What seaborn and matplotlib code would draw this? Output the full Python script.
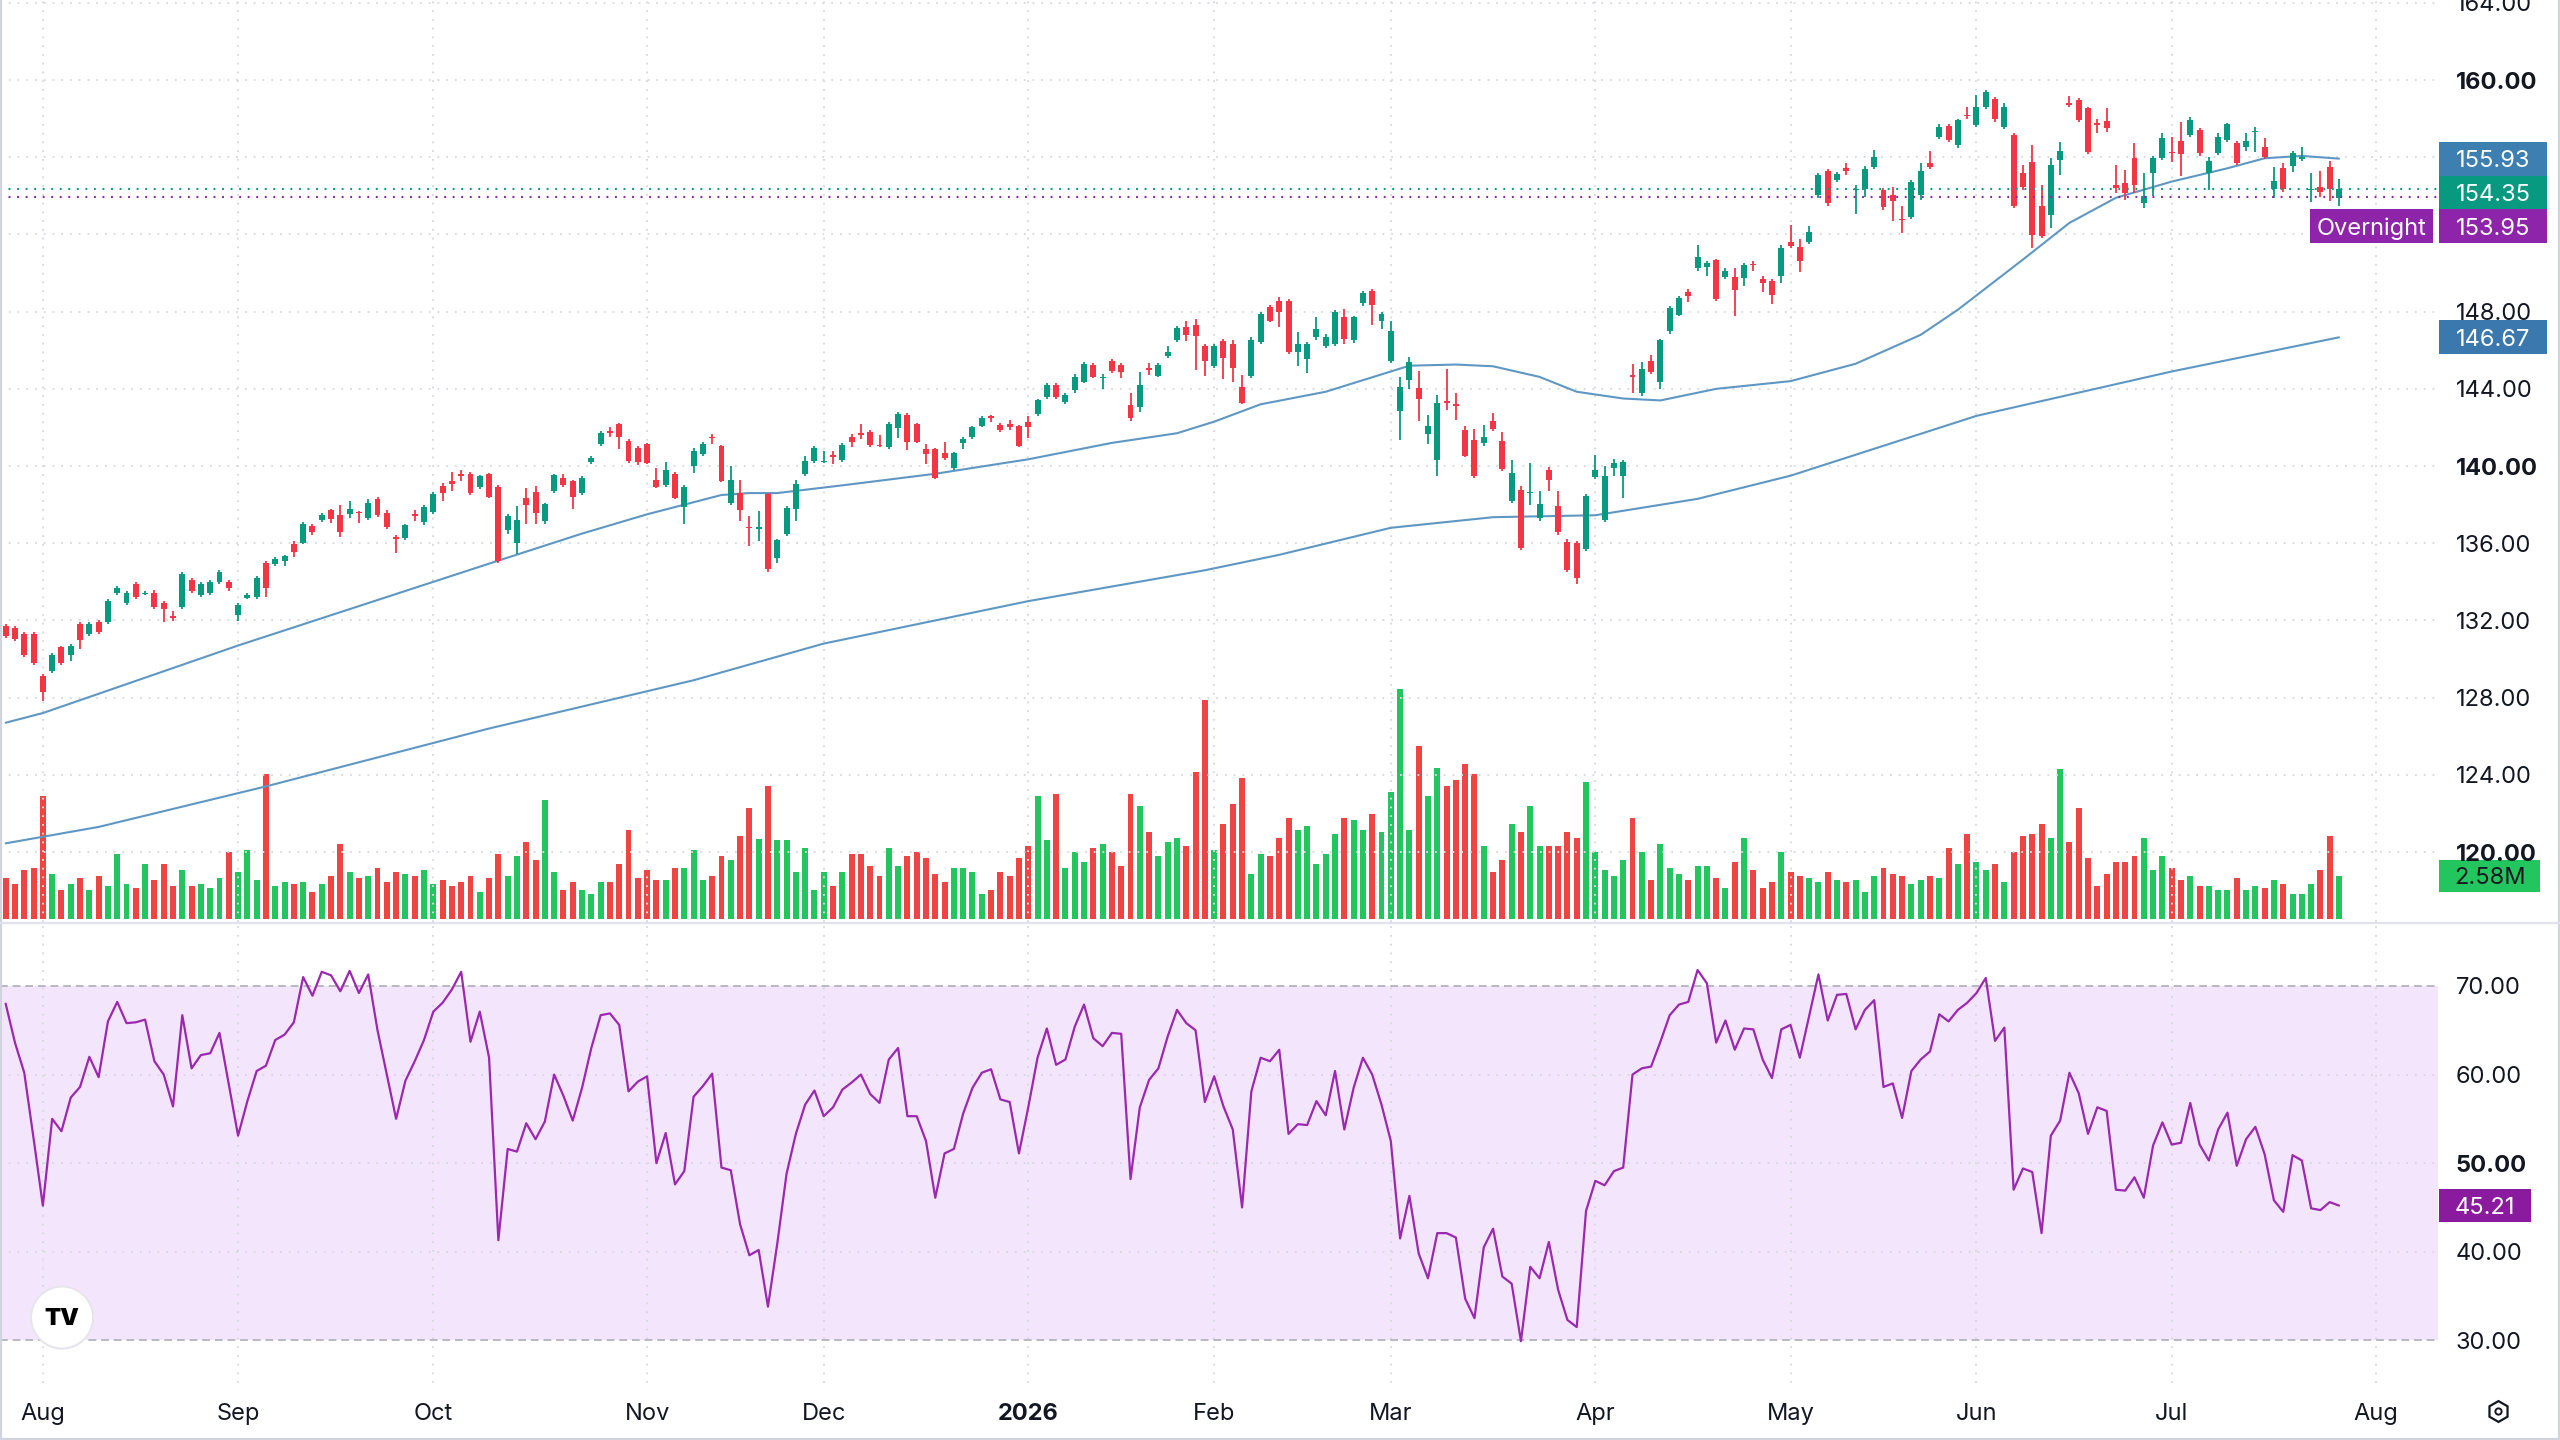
import numpy as np
import pandas as pd
import seaborn as sns
import matplotlib.pyplot as plt
from matplotlib import transforms
from matplotlib.patches import Rectangle, Circle

sns.set_style("white")
plt.rcParams['font.family'] = ['Inter', 'DejaVu Sans']

# ---- daily candles, first bar = 2025-07-28 ----
opens = [
    131.7, 131.6, 131.3, 131.3, 129.1, 129.4, 130.6, 130.2, 131.8, 131.3,
    131.9, 131.9, 133.4, 132.9, 133.9, 133.35, 133.4, 132.9, 132.2, 132.7,
    134.1, 133.3, 133.4, 134.0, 134.0, 132.3, 133.15, 133.2, 135.0, 134.9,
    135.1, 135.97, 136.03, 136.9, 137.2, 137.7, 137.46, 137.5, 137.6, 137.29,
    138.3, 137.58, 136.3, 136.26, 137.5, 137.1, 137.6, 138.96, 139.2, 139.6,
    139.6, 138.9, 139.57, 138.9, 136.7, 136.03, 138.36, 138.67, 137.15, 138.7,
    139.4, 139.2, 138.6, 140.2, 141.16, 141.8, 142.16, 141.3, 140.95, 141.12,
    139.3, 139.0, 139.6, 137.9, 140.0, 140.6, 141.5, 141.04, 138.1, 138.6,
    136.85, 136.75, 138.53, 135.25, 136.5, 137.75, 139.6, 140.26, 140.2, 140.57,
    140.3, 141.5, 141.7, 141.78, 141.1, 141.0, 141.96, 142.65, 142.18, 140.9,
    140.88, 140.66, 139.88, 141.2, 141.5, 142.1, 142.6, 142.13, 142.2, 142.08,
    142.3, 142.7, 143.57, 144.2, 143.3, 143.95, 144.38, 145.25, 144.55, 145.42,
    145.25, 143.17, 143.08, 145.05, 144.68, 145.68, 146.55, 147.2, 147.3, 146.2,
    145.2, 146.5, 146.3, 144.08, 144.68, 146.42, 148.26, 148.57, 148.57, 145.9,
    145.56, 146.68, 146.2, 146.3, 147.71, 146.54, 148.43, 149.05, 147.5, 145.44,
    142.87, 144.45, 144.07, 141.67, 140.33, 143.37, 143.21, 141.88, 141.33, 141.22,
    142.36, 141.28, 138.19, 138.75, 138.6, 137.33, 139.78, 137.93, 136.08, 136.0,
    135.7, 139.44, 137.2, 139.9, 139.5, 144.7, 143.81, 145.44, 144.33, 146.99,
    147.85, 149.0, 150.25, 150.34, 150.68, 149.82, 149.82, 149.73, 150.45, 149.68,
    149.6, 149.85, 151.62, 151.36, 151.62, 154.03, 155.28, 154.83, 155.45, 154.3,
    154.37, 155.52, 154.32, 154.03, 152.8, 152.91, 154.03, 155.69, 157.07, 157.62,
    156.64, 158.2, 157.67, 158.62, 159.0, 157.55, 157.16, 155.17, 155.78, 153.45,
    153.02, 155.86, 158.8, 158.97, 158.53, 157.8, 157.9, 154.57, 154.66, 155.95,
    153.62, 155.17, 155.95, 156.24, 156.86, 157.16, 157.41, 155.17, 156.2, 156.9,
    156.76, 156.55, 157.3, 156.55, 154.34, 155.43, 155.55, 155.93, 154.32, 154.48,
    155.52, 153.88,
]
highs = [
    131.8, 131.7, 131.4, 131.4, 129.2, 130.3, 130.7, 130.8, 131.9, 131.9,
    132.0, 133.1, 133.8, 133.5, 134.0, 133.5, 133.6, 133.0, 132.5, 134.5,
    134.2, 134.0, 134.1, 134.6, 134.1, 132.9, 133.4, 134.3, 135.1, 135.3,
    135.4, 136.14, 137.1, 137.0, 137.55, 137.8, 137.97, 138.2, 137.65, 138.3,
    138.4, 137.7, 136.43, 137.0, 137.7, 138.0, 138.65, 139.1, 139.7, 139.8,
    139.7, 139.55, 139.65, 139.0, 137.5, 137.93, 138.88, 138.96, 138.1, 139.6,
    139.6, 139.3, 139.5, 140.5, 141.8, 142.0, 142.25, 141.4, 141.05, 141.2,
    139.9, 140.2, 139.7, 139.0, 140.95, 141.25, 141.65, 141.1, 140.0, 139.26,
    137.4, 137.67, 138.6, 136.2, 137.95, 139.3, 140.5, 141.05, 140.8, 140.8,
    141.2, 141.65, 142.2, 141.85, 141.6, 142.3, 142.8, 142.75, 142.25, 141.15,
    140.95, 141.26, 140.75, 141.5, 142.1, 142.6, 142.65, 142.25, 142.4, 142.15,
    142.6, 143.5, 144.3, 144.3, 143.8, 144.75, 145.4, 145.35, 144.75, 145.55,
    145.35, 143.8, 144.85, 145.35, 145.35, 146.2, 147.25, 147.5, 147.6, 146.3,
    146.3, 146.6, 146.55, 144.73, 146.7, 148.0, 148.35, 148.77, 148.65, 146.94,
    146.45, 147.71, 146.85, 148.1, 148.14, 147.8, 149.08, 149.15, 148.0, 147.54,
    144.6, 145.65, 144.93, 142.65, 143.68, 145.05, 143.8, 142.05, 141.93, 142.13,
    142.77, 141.76, 140.33, 138.95, 140.16, 138.7, 139.95, 138.7, 136.2, 136.1,
    138.55, 140.59, 139.99, 140.37, 140.3, 145.3, 145.4, 145.74, 146.6, 148.3,
    148.8, 149.15, 151.45, 150.65, 150.75, 150.25, 150.25, 150.5, 150.6, 149.85,
    149.7, 151.45, 152.5, 151.75, 152.45, 155.2, 155.4, 155.25, 155.7, 154.55,
    155.55, 156.38, 154.4, 154.45, 153.5, 154.8, 155.69, 156.3, 157.7, 157.7,
    158.0, 158.6, 159.22, 159.48, 159.1, 158.8, 157.25, 155.6, 156.64, 154.57,
    155.95, 156.8, 159.2, 159.05, 158.6, 158.0, 158.53, 155.6, 155.34, 156.76,
    155.17, 156.05, 157.28, 157.07, 157.84, 158.1, 157.5, 156.03, 157.28, 157.79,
    156.85, 157.28, 157.59, 156.98, 155.52, 155.72, 156.34, 156.55, 155.2, 155.31,
    155.81, 154.86,
]
lows = [
    131.1, 130.95, 130.1, 129.7, 127.8, 129.3, 129.7, 129.9, 130.5, 131.2,
    131.3, 131.8, 133.3, 132.8, 133.1, 133.3, 132.6, 131.9, 131.95, 132.6,
    133.4, 133.2, 133.3, 133.9, 133.5, 131.95, 133.1, 133.1, 133.2, 134.8,
    134.8, 135.3, 135.95, 136.45, 137.1, 137.06, 136.34, 137.3, 137.06, 137.2,
    137.35, 136.75, 135.5, 136.15, 137.17, 136.95, 137.5, 138.2, 138.7, 139.2,
    138.5, 138.8, 138.35, 135.0, 136.5, 135.42, 136.98, 137.0, 137.0, 138.6,
    138.9, 137.75, 138.5, 140.1, 141.05, 141.5, 140.86, 140.15, 140.08, 140.1,
    138.85, 138.9, 138.3, 136.98, 139.65, 140.5, 141.16, 139.15, 138.0, 137.15,
    135.85, 136.1, 134.5, 135.0, 136.4, 137.15, 139.5, 140.15, 140.15, 140.1,
    140.2, 141.0, 141.4, 141.0, 141.0, 140.9, 141.44, 140.83, 141.2, 140.1,
    139.35, 140.3, 139.8, 140.9, 141.4, 142.0, 142.3, 141.75, 141.85, 141.0,
    141.44, 142.6, 143.5, 143.5, 143.2, 143.8, 144.3, 144.55, 144.0, 144.8,
    144.55, 142.35, 142.82, 144.7, 144.6, 145.6, 146.45, 146.46, 145.0, 144.68,
    145.1, 144.5, 144.38, 143.2, 144.55, 146.3, 147.45, 147.23, 145.8, 145.17,
    144.83, 146.55, 146.1, 146.2, 146.3, 146.4, 148.3, 147.33, 147.1, 145.34,
    141.36, 143.97, 142.36, 141.16, 139.5, 142.9, 142.4, 140.45, 139.4, 141.05,
    141.8, 139.75, 138.07, 135.67, 137.97, 137.16, 138.7, 136.45, 134.5, 133.9,
    135.6, 139.35, 137.1, 139.47, 138.36, 143.8, 143.63, 144.76, 144.0, 146.85,
    147.75, 148.5, 150.1, 149.85, 148.55, 149.7, 147.8, 149.34, 150.1, 149.0,
    148.4, 149.5, 151.3, 150.03, 151.5, 153.9, 153.5, 154.7, 155.1, 153.05,
    153.95, 155.4, 153.25, 152.7, 152.08, 152.8, 153.8, 155.4, 156.95, 156.8,
    156.5, 158.0, 157.55, 158.5, 157.85, 157.45, 153.36, 154.31, 151.3, 151.8,
    152.33, 155.09, 158.6, 157.85, 156.17, 157.24, 157.33, 154.14, 153.8, 154.14,
    153.36, 153.97, 155.85, 155.78, 155.03, 157.05, 156.07, 154.31, 156.1, 156.8,
    155.6, 156.35, 156.29, 155.9, 153.88, 154.2, 155.26, 155.8, 153.7, 153.93,
    153.76, 153.45,
]
closes = [
    131.2, 131.05, 130.2, 129.8, 128.3, 130.2, 129.8, 130.7, 131.0, 131.8,
    131.4, 133.0, 133.7, 133.4, 133.2, 133.4, 132.7, 132.6, 132.15, 134.4,
    133.5, 133.9, 134.0, 134.5, 133.7, 132.8, 133.3, 134.2, 133.7, 135.2,
    135.35, 135.57, 137.0, 136.57, 137.46, 137.24, 136.6, 137.8, 137.55, 138.1,
    137.45, 136.86, 136.2, 136.94, 137.4, 137.9, 138.55, 138.6, 139.08, 139.5,
    138.6, 139.48, 138.4, 135.08, 137.4, 137.18, 137.98, 137.58, 138.01, 139.52,
    139.0, 138.4, 139.4, 140.4, 141.73, 141.73, 141.5, 140.26, 140.22, 140.17,
    138.9, 139.8, 138.36, 138.9, 140.78, 141.16, 141.43, 139.22, 139.26, 137.7,
    136.8, 136.82, 134.65, 136.15, 137.84, 139.08, 140.26, 140.95, 140.25, 140.47,
    141.1, 141.26, 141.6, 141.09, 141.05, 142.2, 142.7, 141.26, 141.26, 140.6,
    139.4, 140.4, 140.66, 141.4, 142.04, 142.48, 142.5, 141.87, 142.0, 141.04,
    142.04, 143.4, 144.2, 143.57, 143.69, 144.64, 145.3, 144.64, 144.6, 144.9,
    144.85, 142.48, 144.2, 145.0, 145.25, 145.9, 147.15, 146.8, 146.75, 145.42,
    146.2, 145.6, 145.07, 143.29, 146.51, 147.88, 147.54, 147.97, 145.9, 146.34,
    146.34, 147.11, 146.71, 148.0, 146.6, 147.71, 148.99, 148.36, 147.9, 146.99,
    144.1, 145.4, 143.5, 142.05, 143.28, 143.25, 143.11, 140.54, 139.5, 141.5,
    141.9, 139.85, 139.64, 135.74, 138.65, 138.02, 139.27, 136.56, 134.6, 134.2,
    138.45, 139.78, 139.47, 140.16, 140.2, 144.6, 145.05, 144.88, 146.52, 148.19,
    148.7, 148.82, 150.85, 150.54, 148.65, 150.13, 149.13, 150.42, 150.4, 149.48,
    148.88, 151.28, 151.4, 150.6, 152.13, 155.06, 153.63, 155.14, 155.28, 154.32,
    155.4, 156.0, 153.42, 153.73, 152.75, 154.71, 155.31, 155.52, 157.59, 156.9,
    157.93, 158.15, 158.62, 159.4, 157.97, 158.62, 153.45, 154.48, 151.98, 151.9,
    155.6, 156.3, 158.7, 157.93, 156.29, 157.67, 157.5, 154.4, 154.14, 154.57,
    153.97, 155.95, 156.98, 156.2, 156.17, 157.93, 156.2, 155.83, 157.07, 157.7,
    155.72, 156.86, 157.33, 156.03, 154.79, 154.34, 156.2, 155.95, 154.36, 154.22,
    154.34, 154.35,
]

# volume in millions
volumes = [
    2.43, 2.11, 2.95, 3.04, 7.36, 2.71, 1.75, 2.11, 2.47, 1.75,
    2.59, 1.99, 3.90, 2.11, 1.87, 3.30, 2.35, 3.30, 1.99, 2.95,
    1.99, 2.11, 1.87, 2.47, 4.02, 2.83, 4.14, 2.35, 8.68, 1.99,
    2.23, 2.11, 2.23, 1.63, 2.11, 2.59, 4.50, 2.83, 2.47, 2.59,
    3.06, 2.23, 2.83, 2.71, 2.59, 2.95, 2.11, 2.35, 1.99, 2.23,
    2.59, 1.63, 2.47, 3.90, 2.59, 3.78, 4.62, 3.54, 7.12, 2.83,
    1.75, 2.23, 1.75, 1.51, 2.23, 2.23, 3.30, 5.33, 2.47, 2.95,
    2.35, 2.35, 3.06, 3.06, 4.14, 2.35, 2.59, 3.78, 3.54, 4.98,
    6.65, 4.80, 7.96, 4.74, 4.74, 2.83, 4.26, 1.75, 2.83, 1.99,
    2.83, 3.90, 3.90, 3.18, 2.59, 4.26, 3.18, 3.78, 4.02, 3.66,
    2.71, 2.23, 3.06, 3.06, 2.83, 1.51, 1.75, 2.83, 2.59, 3.66,
    4.38, 7.36, 4.74, 7.48, 3.06, 4.02, 3.42, 4.26, 4.50, 4.02,
    3.18, 7.48, 6.77, 5.21, 3.78, 4.62, 4.86, 4.38, 8.80, 13.09,
    4.14, 5.69, 6.89, 8.44, 2.71, 3.90, 3.78, 4.86, 6.05, 5.33,
    5.57, 3.30, 3.90, 5.09, 6.05, 5.93, 5.33, 6.29, 5.21, 7.60,
    13.69, 5.33, 10.35, 7.36, 9.03, 7.96, 8.32, 9.27, 8.68, 4.38,
    2.83, 3.54, 5.69, 5.21, 6.77, 4.38, 4.38, 4.38, 5.21, 4.86,
    8.20, 4.02, 2.95, 2.59, 3.54, 6.05, 4.02, 2.35, 4.50, 3.06,
    2.71, 2.35, 3.18, 3.18, 2.47, 1.87, 3.42, 4.86, 2.95, 1.87,
    2.23, 4.02, 2.83, 2.59, 2.47, 2.23, 2.83, 2.35, 2.23, 2.35,
    1.63, 2.59, 3.06, 2.71, 2.59, 2.11, 2.35, 2.59, 2.47, 4.26,
    3.30, 5.09, 3.42, 2.95, 3.30, 2.23, 4.02, 4.98, 5.09, 5.69,
    4.86, 8.92, 4.62, 6.65, 3.66, 1.99, 2.71, 3.42, 3.42, 3.78,
    4.86, 2.95, 3.78, 3.06, 2.35, 2.59, 1.99, 1.99, 1.75, 1.75,
    2.47, 1.75, 1.99, 1.87, 2.35, 2.11, 1.51, 1.51, 2.11, 2.95,
    4.98, 2.58,
]

# RSI(14)
rsi = [
    68.0, 63.6, 60.2, 52.8, 45.2, 55.0, 53.6, 57.4, 58.6, 62.0,
    59.7, 66.0, 68.2, 65.8, 65.9, 66.2, 61.5, 60.0, 56.4, 66.7,
    60.7, 62.2, 62.4, 64.7, 58.9, 53.1, 57.0, 60.4, 61.0, 63.9,
    64.5, 65.9, 71.0, 68.9, 71.6, 71.2, 69.4, 71.7, 69.2, 71.3,
    65.0, 60.0, 55.0, 59.3, 61.5, 63.9, 67.1, 68.1, 69.6, 71.6,
    63.7, 67.1, 61.9, 41.3, 51.6, 51.3, 54.5, 52.7, 54.7, 60.0,
    57.6, 54.8, 58.5, 63.0, 66.7, 66.9, 65.6, 58.1, 59.2, 59.8,
    50.0, 53.4, 47.6, 49.1, 57.5, 58.7, 60.1, 49.5, 49.2, 43.1,
    39.6, 40.2, 33.8, 40.9, 48.8, 53.3, 56.6, 58.2, 55.3, 56.3,
    58.3, 59.1, 60.0, 57.8, 56.8, 61.7, 63.0, 55.3, 55.3, 52.5,
    46.1, 51.1, 51.6, 55.6, 58.5, 60.2, 60.6, 57.2, 56.9, 51.1,
    56.3, 61.9, 65.2, 61.1, 61.7, 65.4, 67.9, 64.1, 63.2, 64.7,
    64.6, 48.2, 56.3, 59.4, 60.7, 64.3, 67.3, 65.8, 65.0, 56.9,
    59.8, 56.4, 53.8, 45.0, 58.1, 61.9, 61.5, 62.8, 53.3, 54.4,
    54.3, 57.0, 55.4, 60.4, 53.8, 58.5, 61.9, 60.0, 56.6, 52.5,
    41.5, 46.3, 39.8, 37.0, 42.1, 42.1, 41.6, 34.7, 32.5, 40.5,
    42.6, 37.2, 36.4, 29.9, 38.3, 37.0, 41.1, 35.7, 32.3, 31.5,
    44.6, 48.0, 47.5, 49.1, 49.5, 60.0, 60.7, 60.9, 63.7, 66.7,
    67.9, 68.2, 71.8, 70.3, 63.6, 66.1, 62.8, 65.2, 65.1, 61.7,
    59.6, 65.1, 65.6, 61.9, 66.6, 71.3, 66.1, 69.0, 69.1, 65.1,
    67.3, 68.4, 58.6, 59.0, 55.1, 60.4, 61.7, 62.6, 66.8, 66.0,
    67.3, 68.1, 69.2, 70.9, 63.8, 65.3, 47.0, 49.4, 49.0, 42.1,
    53.1, 54.8, 60.2, 57.9, 53.3, 56.3, 55.9, 47.0, 46.9, 48.4,
    46.1, 52.0, 54.6, 52.1, 52.3, 56.8, 52.1, 50.3, 53.8, 55.7,
    49.7, 52.7, 54.1, 51.0, 45.8, 44.5, 50.9, 50.3, 44.9, 44.7,
    45.6, 45.21,
]

# moving averages, read at bar positions
ma50_bar = [0, 4, 25, 46, 53, 62, 69, 77, 80, 83, 90, 100, 110, 119, 126, 130, 135, 142, 151, 156,
            160, 165, 169, 174, 178, 184, 192, 199, 206, 210, 217, 222, 227, 233, 239, 243, 247, 251]
ma50_val = [126.7, 127.2, 130.7, 134.0, 135.1, 136.5, 137.5, 138.5, 138.6, 138.6, 139.0, 139.6, 140.35,
            141.2, 141.7, 142.3, 143.2, 143.85, 145.2, 145.26, 145.17, 144.62, 143.85, 143.5, 143.4,
            144.0, 144.4, 145.3, 146.8, 148.1, 150.7, 152.6, 153.9, 154.74, 155.43, 155.95, 156.07, 155.93]
ma200_bar = [0, 10, 28, 52, 74, 88, 110, 129, 137, 149, 160, 171, 182, 192, 212, 233, 251]
ma200_val = [120.45, 121.3, 123.4, 126.4, 128.9, 130.8, 133.0, 134.6, 135.4, 136.8, 137.35, 137.45,
             138.3, 139.5, 142.6, 144.9, 146.67]

last_close = 154.35
overnight = 153.95
price_ticks = [120, 124, 128, 132, 136, 140, 144, 148, 152, 156, 160, 164]
bold_ticks = [120, 140, 160]
rsi_ticks = [30, 40, 50, 60, 70]

# ---- colours ----
GREEN = '#089981'
RED = '#f23645'
VGREEN = '#22c55e'
VRED = '#ef4444'
MA_C = '#5f97c4'
RSI_C = '#9c27b0'
PURPLE = '#8e24aa'
GRID = '#d7d9df'
TXT = '#131722'

# trading calendar (NYSE holidays) for bar positions and month ticks
holidays = ['2025-09-01', '2025-11-27', '2025-12-25', '2026-01-01', '2026-01-19',
            '2026-02-16', '2026-04-03', '2026-05-25', '2026-06-19', '2026-07-03']
cal = pd.bdate_range('2025-07-28', '2026-08-31', freq='C', holidays=holidays)
n = len(closes)
x = np.arange(n)
first_aug = [i for i in range(len(cal)) if cal[i].month == 8 and cal[i].year == 2025][0]
month_pos = [first_aug] + [i for i in range(first_aug + 1, len(cal)) if cal[i].month != cal[i - 1].month]
month_lab = [str(cal[i].year) if cal[i].month == 1 else cal[i].strftime('%b') for i in month_pos]

o = np.array(opens); h = np.array(highs); l = np.array(lows); c = np.array(closes)
up = c >= o
candle_c = np.where(up, GREEN, RED)
vol_c = np.where(up, VGREEN, VRED)

# ---- layout (reference measured on a 1568 x 882 grid) ----
W, H = 1568.0, 882.0
PLOT_R = 1493.0
PRICE_BOT, RSI_TOP, RSI_BOT = 565.0, 567.0, 847.0
XMIN, XMAX = -0.61, 261.6

fig = plt.figure(figsize=(25.6, 14.4), dpi=100)
price_rect = [0, 1 - PRICE_BOT / H, PLOT_R / W, PRICE_BOT / H]
ax_vol = fig.add_axes(price_rect)
ax = fig.add_axes(price_rect, facecolor='none')
ax_rsi = fig.add_axes([0, 1 - RSI_BOT / H, PLOT_R / W, (RSI_BOT - RSI_TOP) / H])

for a in (ax_vol, ax, ax_rsi):
    a.set_xlim(XMIN, XMAX)
    a.set_xticks([]); a.set_yticks([])
    for s in a.spines.values():
        s.set_visible(False)

ax.set_ylim(116.35, 164.15)
ax_vol.set_ylim(-0.2, 54.8)
ax_rsi.set_ylim(25.2, 76.8)

dot = (0, (0.9, 3.6))
for p in price_ticks:
    ax.axhline(p, color=GRID, lw=1.4, ls=dot, zorder=0)
for r in (40, 50, 60):
    ax_rsi.axhline(r, color=GRID, lw=1.4, ls=dot, zorder=1)
for mp in month_pos:
    ax.axvline(mp, color=GRID, lw=1.4, ls=dot, zorder=0)
    ax_rsi.axvline(mp, color=GRID, lw=1.4, ls=dot, zorder=1)

# volume
ax_vol.bar(x, volumes, width=0.64, color=vol_c, linewidth=0, zorder=2)

# candles
ax.vlines(x, l, h, colors=candle_c, lw=1.3, zorder=3)
body_lo = np.minimum(o, c)
body_h = np.maximum(np.abs(c - o), 0.06)
ax.bar(x, body_h, bottom=body_lo, width=0.64, color=candle_c, linewidth=0, zorder=4)

# moving averages
sns.lineplot(x=ma50_bar, y=ma50_val, ax=ax, color=MA_C, lw=1.5, sort=False, estimator=None, zorder=2)
sns.lineplot(x=ma200_bar, y=ma200_val, ax=ax, color=MA_C, lw=1.5, sort=False, estimator=None, zorder=2)

# last price / overnight lines
ax.axhline(last_close, color=GREEN, lw=1.5, ls=(0, (0.9, 3.2)), zorder=5)
ax.axhline(overnight, color=PURPLE, lw=1.5, ls=(0, (0.9, 3.2)), zorder=5)

# RSI panel
ax_rsi.axhspan(30, 70, color='#f3e6fc', zorder=0, lw=0)
for r in (30, 70):
    ax_rsi.axhline(r, color='#b9b7c4', lw=1.4, ls=(0, (4, 2.5)), zorder=1)
sns.lineplot(x=x, y=rsi, ax=ax_rsi, color=RSI_C, lw=1.6, sort=False, estimator=None, zorder=3)

# ---- right scale ----
LBL_X = 1504 / PLOT_R
FS = 17


def scale_text(axis, y, s, bold=False):
    tr = transforms.blended_transform_factory(axis.transAxes, axis.transData)
    axis.text(LBL_X, y, s, transform=tr, ha='left', va='center_baseline', fontsize=FS,
              color=TXT, fontweight='bold' if bold else 'normal', clip_on=False, zorder=6)


def tag(axis, yc, hh, x0, x1, fc, s, tc='white'):
    tr = transforms.blended_transform_factory(axis.transAxes, axis.transData)
    axis.add_patch(Rectangle((x0 / PLOT_R, yc - hh / 2), (x1 - x0) / PLOT_R, hh, transform=tr,
                             facecolor=fc, edgecolor='none', clip_on=False, zorder=10))
    axis.text((x0 + x1) / 2 / PLOT_R, yc, s, transform=tr, ha='center', va='center_baseline',
              color=tc, fontsize=FS, clip_on=False, zorder=11)


for p in price_ticks:
    scale_text(ax, p, f'{p:.2f}', p in bold_ticks)
for r in rsi_ticks:
    scale_text(ax_rsi, r, f'{r:.2f}', r == 50)

# price tags, stacked so they do not overlap
TAG_H = 1.75
ma50_last = ma50_val[-1]
y1 = ma50_last
y2 = min(last_close, y1 - TAG_H)
y3 = min(overnight, y2 - TAG_H)
tag(ax, y1, TAG_H, 1494, 1560, '#3d7fb1', f'{ma50_last:.2f}')
tag(ax, y2, TAG_H, 1494, 1560, GREEN, f'{last_close:.2f}')
tag(ax, y3, TAG_H, 1494, 1560, PURPLE, f'{overnight:.2f}')
tag(ax, y3, TAG_H, 1415, 1490, PURPLE, 'Overnight')
tag(ax, ma200_val[-1], TAG_H, 1494, 1560, '#3a78ad', f'{ma200_val[-1]:.2f}')
tag(ax_vol, volumes[-1], 1.9, 1494, 1556, VGREEN, f'{volumes[-1]:.2f}M', tc=TXT)
tag(ax_rsi, rsi[-1], 3.7, 1494, 1550, '#8a1a9e', f'{rsi[-1]:.2f}')

# time axis
lab_y = -(866 - RSI_BOT) / (RSI_BOT - RSI_TOP)
tr_time = transforms.blended_transform_factory(ax_rsi.transData, ax_rsi.transAxes)
for mp, lab in zip(month_pos, month_lab):
    if XMIN <= mp <= XMAX:
        ax_rsi.text(mp, lab_y, lab, transform=tr_time, ha='center', va='center', fontsize=FS,
                    color=TXT, fontweight='bold' if lab.isdigit() else 'normal', clip_on=False)

# ---- frame, separators, logo, settings icon ----
ov = fig.add_axes([0, 0, 1, 1], facecolor='none')
ov.set_xlim(0, W); ov.set_ylim(H, 0); ov.axis('off')
ov.plot([0, W], [PRICE_BOT + 0.5, PRICE_BOT + 0.5], color='#e0e3eb', lw=1.6)
ov.add_patch(Rectangle((0.6, -2), W - 1.2, H - 0.6 + 2, fill=False, edgecolor='#d1d4dc', lw=1.6))
ov.add_patch(Circle((38, 807), 19, facecolor='white', edgecolor='#e6e6ea', lw=1.5, zorder=5))
ov.text(38, 808, 'TV', ha='center', va='center', fontsize=17, fontweight='black',
        color='black', zorder=6)
ov.plot([1530], [864], marker='h', ms=15, mfc='none', mec=TXT, mew=1.6)
ov.plot([1530], [864], marker='o', ms=4.5, mfc='none', mec=TXT, mew=1.4)

fig.savefig('out.png', dpi=100)
